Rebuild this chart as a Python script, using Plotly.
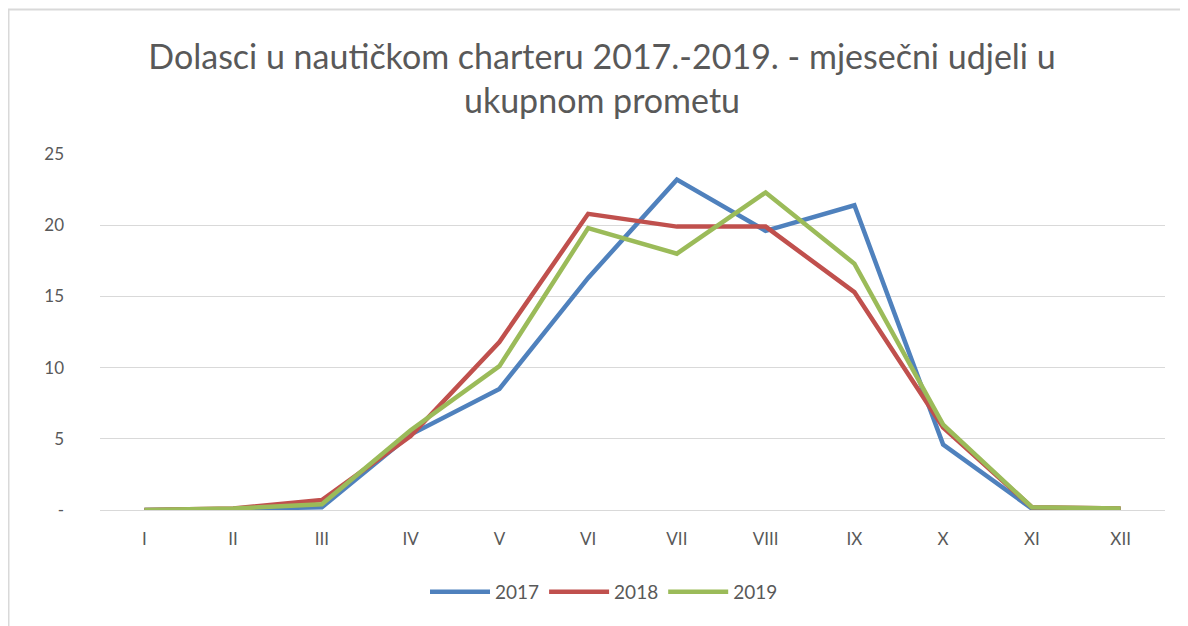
import plotly.graph_objects as go

months = ["I", "II", "III", "IV", "V", "VI", "VII", "VIII", "IX", "X", "XI", "XII"]
s2017 = [0.0, 0.05, 0.2, 5.3, 8.5, 16.3, 23.2, 19.6, 21.4, 4.6, 0.1, 0.05]
s2018 = [0.0, 0.1, 0.7, 5.2, 11.8, 20.8, 19.9, 19.9, 15.3, 5.8, 0.2, 0.1]
s2019 = [0.0, 0.1, 0.4, 5.6, 10.1, 19.8, 18.0, 22.3, 17.3, 6.0, 0.2, 0.1]
series_names = ["2017", "2018", "2019"]
colors = ["#4F81BD", "#C0504D", "#9BBB59"]
y_ticks = [0, 5, 10, 15, 20, 25]
y_ticktext = ["-", "5", "10", "15", "20", "25"]

fig = go.Figure()
for name, vals, col in zip(series_names, [s2017, s2018, s2019], colors):
    fig.add_trace(go.Scatter(x=months, y=vals, mode="lines", name=name,
                             line=dict(color=col, width=4.5)))

# page has an 8px body margin, so the figure starts at (8, 8)
OFF = 8
W, H = 1180, 618
L = 100 - OFF
T = 154 - OFF
R = W - (1165 - OFF)
B = H - (510 - OFF)
pw, ph = W - L - R, H - T - B

def px2paper_x(px):
    return (px - OFF - L) / pw

def px2paper_y(py):
    return (H - B - (py - OFF)) / ph

fig.update_layout(
    width=W, height=H,
    margin=dict(l=L, r=R, t=T, b=B),
    paper_bgcolor="white", plot_bgcolor="white",
    font=dict(family="Lato, 'Open Sans', sans-serif", color="#595959"),
    title=dict(text="Dolasci u nautičkom charteru 2017.-2019. - mjesečni udjeli u<br>ukupnom prometu",
               x=(602 - OFF) / W, xanchor="center", xref="container",
               y=1 - (69 - OFF) / H, yanchor="middle", yref="container",
               font=dict(size=34, color="#595959", family="Lato, 'Open Sans', sans-serif")),
    xaxis=dict(type="category", range=[-0.5, 11.5], showgrid=False,
               showline=True, linecolor="#D9D9D9", linewidth=1,
               ticks="", tickfont=dict(size=17, color="#595959"), ticklabelstandoff=14),
    yaxis=dict(range=[0, 25], tickvals=y_ticks, ticktext=y_ticktext,
               showgrid=True, gridcolor="#D9D9D9", gridwidth=1,
               zeroline=False, showline=False, ticks="",
               tickfont=dict(size=17, color="#595959"), ticklabelstandoff=35),
    legend=dict(orientation="h", x=px2paper_x(604), xanchor="center",
                y=px2paper_y(592), yanchor="middle",
                font=dict(size=19, color="#595959"), itemwidth=60),
    showlegend=True,
)

# chart frame (top and left edges visible)
fig.add_shape(type="line", xref="paper", yref="paper",
              x0=px2paper_x(8), x1=px2paper_x(1200), y0=px2paper_y(9.5), y1=px2paper_y(9.5),
              line=dict(color="#D9D9D9", width=2))
fig.add_shape(type="line", xref="paper", yref="paper",
              x0=px2paper_x(8.5), x1=px2paper_x(8.5), y0=px2paper_y(9.5), y1=px2paper_y(640),
              line=dict(color="#D9D9D9", width=2))

fig.write_html("out.html")
